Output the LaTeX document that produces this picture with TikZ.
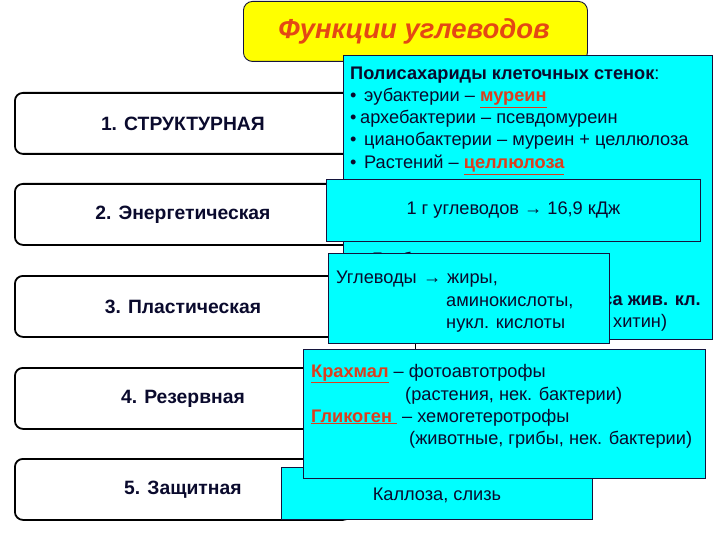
\documentclass[tikz,border=0pt]{standalone}
\usepackage{fontspec}
\setmainfont{Liberation Sans}
\definecolor{cy}{RGB}{0,255,255}
\definecolor{yl}{RGB}{255,255,0}
\definecolor{ttl}{RGB}{228,72,20}
\definecolor{hl}{RGB}{220,62,30}
\definecolor{ink}{RGB}{10,10,45}
\definecolor{edge}{RGB}{20,20,60}
\newcommand{\hw}[1]{\textcolor{hl}{\textbf{\underline{#1}}}}
\newcommand{\bodyfont}{\fontsize{18.2}{21}\selectfont}
\begin{document}
\begin{tikzpicture}[x=1pt,y=-1pt,
  lbox/.style={draw=black,line width=1.8pt,rounded corners=8pt,fill=white,anchor=north west,
    minimum width=336pt,minimum height=61pt,inner sep=0pt,font=\fontsize{19.3}{22}\selectfont\bfseries,text=ink},
  cbox/.style={draw=edge,line width=0.9pt,fill=cy,anchor=north west,inner sep=0pt},
  txt/.style={anchor=base west,inner sep=0pt,font=\bodyfont,text=ink},
  txtr/.style={anchor=base east,inner sep=0pt,font=\bodyfont,text=ink}]
\useasboundingbox (0,0) rectangle (720,540);
% left function boxes
\node[lbox] (f1) at (14,92) {1. СТРУКТУРНАЯ};
\node[lbox] (f2) at (14,183) {2. Энергетическая};
\node[lbox] (f3) at (14,275) {3. Пластическая};
\node[lbox] (f4) at (14,367) {4. Резервная};
\node[lbox] (f5) at (14,458) {5. Защитная};
% title
\node[draw=edge,line width=0.9pt,fill=yl,rounded corners=9pt,anchor=north west,inner sep=0pt,
  minimum width=344pt,minimum height=60pt] (title) at (243,1) {};
\node[inner sep=0pt,text=ttl,font=\fontsize{27.5}{30}\selectfont\bfseries\itshape] (tt) at (414,31) {Функции углеводов};
% hidden connector
\node[cbox,minimum width=311pt,minimum height=52pt] (e) at (281,467) {};
\draw[line width=1.5pt] (title.south) -- (title.south |- e.north);
% box A
\node[cbox,minimum width=369pt,minimum height=284pt] (a) at (343,55) {};
\node[txt,font=\bodyfont\bfseries] (a1) at (350,80) {Полисахариды клеточных стенок\textmd{:}};
\node[txt] (a2b) at (350,102) {•};
\node[txt] (a2) at (364,102) {эубактерии – \hw{муреин}};
\node[txt] (a3b) at (350,124) {•};
\node[txt] (a3) at (360,124) {архебактерии – псевдомуреин};
\node[txt] (a4b) at (350,146) {•};
\node[txt] (a4) at (364,146) {цианобактерии – муреин + целлюлоза};
\node[txt] (a5b) at (350,169) {•};
\node[txt] (a5) at (364,169) {Растений – \hw{целлюлоза}};
\node[txt] (a6b) at (350,265) {•};
\node[txt] (a6) at (372,265) {Грибов – \hw{хитин}};
\node[txtr,font=\bodyfont\bfseries] (a7) at (701,305) {са жив. кл.};
\node[txt] (a8) at (613,327) {хитин)};
% box B
\node[cbox,minimum width=374pt,minimum height=62pt,font=\bodyfont,text=ink] (b) at (326,179) {1 г углеводов → 16,9 кДж};
% box C
\node[cbox,minimum width=281pt,minimum height=90pt] (c) at (328,253) {};
\node[txt] (c1) at (336,283) {Углеводы};
\node[txt] (c1a) at (423,283) {→};
\node[txt] (c1b) at (447,283) {жиры,};
\node[txt] (c2) at (446,306) {аминокислоты,};
\node[txt] (c3) at (446,328) {нукл. кислоты};
% box D
\node[cbox,minimum width=402pt,minimum height=129pt] (d) at (303,349) {};
\node[txt] (d1) at (311,377) {\hw{Крахмал} – фотоавтотрофы};
\node[txt] (d2) at (405,400) {(растения, нек. бактерии)};
\node[txt] (d3) at (311,422) {\hw{Гликоген } – хемогетеротрофы};
\node[txt] (d4) at (409,444) {(животные, грибы, нек. бактерии)};
% box E text
\node[inner sep=0pt,font=\bodyfont,text=ink] (etxt) at (437,495) {Каллоза, слизь};
\end{tikzpicture}
\end{document}
